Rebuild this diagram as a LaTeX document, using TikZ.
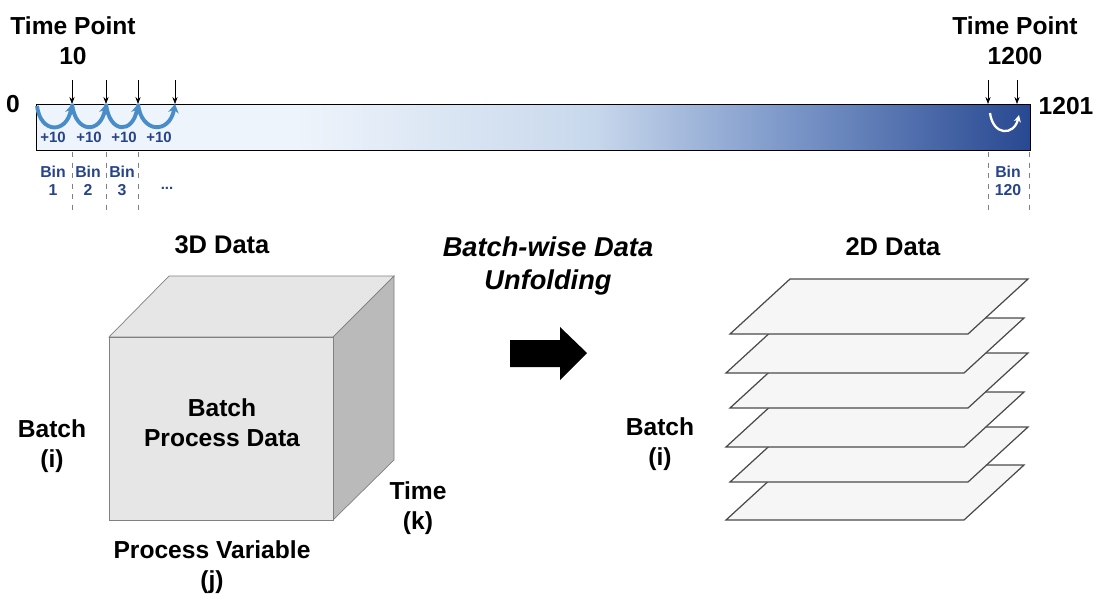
\documentclass[tikz,border=0pt]{standalone}
\usepackage{fontspec}
\setmainfont{Liberation Sans}
\usetikzlibrary{arrows.meta}
\usepackage{xcolor}

\definecolor{barA}{RGB}{238,244,251}
\definecolor{barB}{RGB}{200,216,236}
\definecolor{barC}{RGB}{122,150,200}
\definecolor{bardark}{RGB}{40,72,145}
\definecolor{binblue}{RGB}{38,68,135}
\definecolor{loopblue}{RGB}{72,140,200}
\definecolor{cubeedge}{RGB}{128,128,128}
\definecolor{cubefront}{RGB}{230,230,230}
\definecolor{cubeside}{RGB}{186,186,186}
\definecolor{sheetfill}{RGB}{246,246,246}
\definecolor{sheetedge}{RGB}{75,75,75}

\pgfdeclarehorizontalshading{barshade}{100bp}{color(0bp)=(barA); color(25bp)=(barA); color(38bp)=(barA); color(53bp)=(barB); color(63bp)=(barC); color(75bp)=(bardark); color(100bp)=(bardark)}

\begin{document}
\begin{tikzpicture}[x=0.02cm, y=-0.02cm,
    lbl/.style={font=\bfseries\fontsize{14}{17}\selectfont, align=center},
    ttl/.style={font=\bfseries\fontsize{14.5}{18}\selectfont, align=center},
    small/.style={font=\bfseries\fontsize{8.5}{10}\selectfont, text=binblue, align=center},
    binlbl/.style={small, font=\bfseries\fontsize{9}{10.5}\selectfont},
    tick/.style={-{Stealth[length=4pt,width=3pt]}, thin},
    loopy/.style={loopblue, line width=2.2pt, -{Stealth[length=5pt,width=6pt]}},
    binline/.style={gray, dashed, thin}]
    \useasboundingbox (0,0) rectangle (1094,595);

    % Time axis
    \shade[shading=barshade] (36,104) rectangle (1030,150);
    \draw[thin] (36,104) rectangle (1030,150);
    \node[lbl] (zero) at (13,104) {0};
    \node[lbl] (last) at (1066,106) {1201};

    \node[lbl] (tp10) at (73,41) {Time Point\\10};
    \node[lbl] (tp1200) at (1015,41) {Time Point\\1200};

    % Steps of +10
    \coordinate (t0) at (37,106);
    \foreach \x [count=\i] in {72,106,138,175} {
        \coordinate (t\i) at (\x,104);
        \coordinate (a\i) at (\x,80);
        \draw[tick] (a\i) -- (t\i);
    }
    \foreach \i [count=\j from 1] in {0,1,2,3} {
        \draw[loopy] (t\i) .. controls ([xshift=2]t\i |- 0,134) and ([xshift=-3]t\j |- 0,134) .. (t\j);
    }
    \foreach \x [count=\i] in {53,89,124,159}
        \node[small] (p\i) at (\x,137) {+10};

    % Last step
    \foreach \x [count=\i] in {988,1017} {
        \coordinate (r\i) at (\x,104);
        \coordinate (b\i) at (\x,80);
        \draw[tick] (b\i) -- (r\i);
    }
    \draw[white, line width=1.3pt, -{Stealth[length=4pt,width=4pt]}] (990,113) .. controls (993,136) and (1014,136) .. (1019,115);

    % Bins
    \foreach \x in {72,106,138,988,1029}
        \draw[binline] (\x,152) -- (\x,212);
    \node[binlbl] (bin1) at (53,181) {Bin\\1};
    \node[binlbl] (bin2) at (88,181) {Bin\\2};
    \node[binlbl] (bin3) at (122,181) {Bin\\3};
    \node[small] (dots) at (167,188) {...};
    \node[binlbl] (bin120) at (1008,181) {Bin\\120};

    % 3D data cube
    \node[ttl] (title3d) at (222,245) {3D Data};
    \draw[cubeedge, fill=cubefront] (109,337) -- (169,276) -- (394,276) -- (333,337) -- cycle;
    \draw[cubeedge, fill=cubeside] (333,337) -- (394,276) -- (394,460) -- (333,520) -- cycle;
    \draw[cubeedge, fill=cubefront] (109,337) rectangle (333,520);
    \node[lbl] (bpd) at (222,423) {Batch\\Process Data};
    \node[lbl] (batchL) at (52,446) {Batch\\(i)};
    \node[lbl] (time) at (418,508) {Time\\(k)};
    \node[lbl] (procvar) at (212,567) {Process Variable\\(j)};

    % Unfolding arrow
    \node[font=\bfseries\itshape\fontsize{15.5}{19}\selectfont, align=center] (unfold) at (548,266) {Batch-wise Data\\Unfolding};
    \fill (510,340) -- (560,340) -- (560,327) -- (587,353) -- (560,380) -- (560,367) -- (510,367) -- cycle;

    % 2D data sheets
    \node[ttl] (title2d) at (893,247) {2D Data};
    \foreach \y/\dx in {520/-4, 482/0, 447/-4, 408/0, 373/-4, 334/0}
        \draw[sheetedge, fill=sheetfill, line width=0.7pt] (730+\dx,\y) -- (968+\dx,\y) -- (1028+\dx,\y-55) -- (790+\dx,\y-55) -- cycle;
    \node[lbl] (batchR) at (660,444) {Batch\\(i)};
\end{tikzpicture}
\end{document}
